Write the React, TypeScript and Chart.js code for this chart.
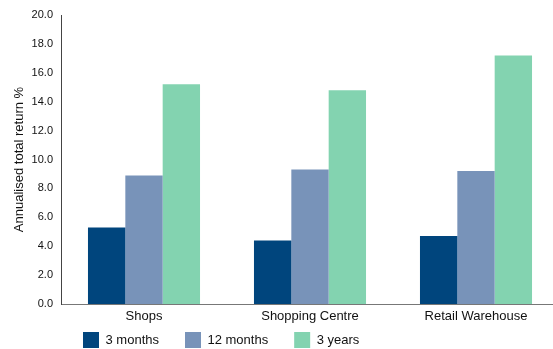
import React, { useEffect, useRef } from "react";
import { Chart, registerables } from "chart.js";

Chart.register(...registerables);

const categories = ["Shops", "Shopping Centre", "Retail Warehouse"];
const seriesNames = ["3 months", "12 months", "3 years"];
const threeMonths = [5.3, 4.4, 4.7];
const twelveMonths = [8.9, 9.3, 9.2];
const threeYears = [15.2, 14.8, 17.2];
const colors = ["#00457d", "#7893b9", "#83d3b0"];
const yTitle = "Annualised total return %";

const FONT = "'Liberation Sans', Arial, sans-serif";

export default function App() {
  const ref = useRef<HTMLCanvasElement | null>(null);

  useEffect(() => {
    if (!ref.current) return;
    const legendShift = {
      id: "legendShift",
      afterLayout(chart: any) {
        const lg = chart.legend;
        if (lg) {
          lg.left = 57;
          lg.top = 306;
        }
      },
    };
    const chart = new Chart(ref.current, {
      type: "bar",
      data: {
        labels: categories,
        datasets: [threeMonths, twelveMonths, threeYears].map((d, i) => ({
          label: seriesNames[i],
          data: d,
          backgroundColor: colors[i],
          borderWidth: 0,
          categoryPercentage: 0.675,
          barPercentage: 1,
        })),
      },
      options: {
        animation: false,
        responsive: false,
        layout: { padding: { top: 15, right: 1, left: 0, bottom: 0 } },
        plugins: {
          tooltip: { enabled: false },
          legend: {
            position: "bottom",
            align: "start",
            maxHeight: 18,
            labels: {
              boxWidth: 16,
              boxHeight: 16,
              padding: 26,
              color: "#111",
              font: { family: FONT, size: 13 },
            },
          },
        },
        scales: {
          x: {
            grid: { display: false, drawTicks: false },
            border: { display: true, color: "#777", width: 1 },
            ticks: { color: "#111", padding: 5, font: { family: FONT, size: 13 } },
            afterFit(scale: any) {
              scale.height = 27;
            },
          },
          y: {
            min: 0,
            max: 20,
            grid: { display: false, drawTicks: false },
            border: { display: true, color: "#444", width: 1 },
            ticks: {
              stepSize: 2,
              color: "#111",
              padding: 8,
              font: { family: FONT, size: 11 },
              callback: (v: any) => Number(v).toFixed(1),
            },
            title: {
              display: true,
              text: yTitle,
              color: "#111",
              padding: { top: 12, bottom: 0 },
              font: { family: FONT, size: 13 },
            },
            afterFit(scale: any) {
              scale.width = 61;
            },
          },
        },
      },
      plugins: [legendShift],
    });
    return () => chart.destroy();
  }, []);

  return (
    <div
      style={{
        position: "fixed",
        left: 0,
        top: 0,
        width: 553,
        height: 349,
        overflow: "hidden",
        background: "#fff",
      }}
    >
      <canvas ref={ref} width={560} height={349} style={{ display: "block" }} />
    </div>
  );
}
